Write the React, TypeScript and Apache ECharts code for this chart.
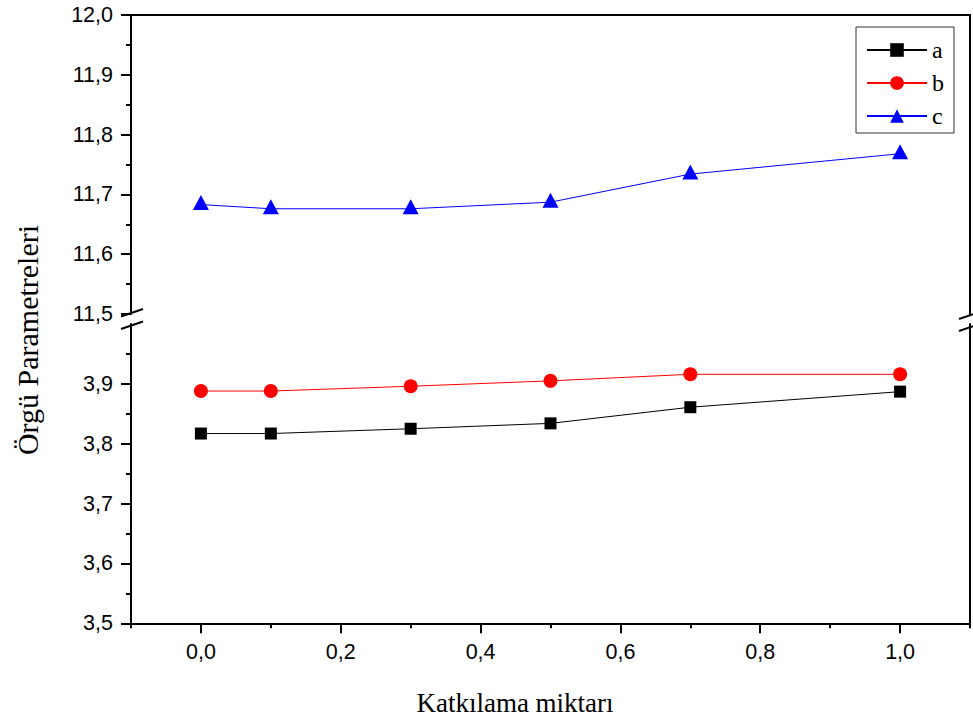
import React, { useEffect, useRef } from "react";
import * as echarts from "echarts";

const xValues = [0, 0.1, 0.3, 0.5, 0.7, 1.0];
const seriesA = [3.817, 3.817, 3.825, 3.834, 3.861, 3.887];
const seriesB = [3.888, 3.888, 3.896, 3.905, 3.916, 3.916];
const seriesC = [11.683, 11.676, 11.676, 11.687, 11.734, 11.768];
const seriesNames = ["a", "b", "c"];
const xMajorTicks = [0, 0.2, 0.4, 0.6, 0.8, 1.0];
const xMinorTicks = [-0.1, 0.1, 0.3, 0.5, 0.7, 0.9, 1.1];
const upperTicks = [11.5, 11.6, 11.7, 11.8, 11.9, 12.0];
const lowerTicks = [3.5, 3.6, 3.7, 3.8, 3.9];
const xTitle = "Katkılama miktarı";
const yTitle = "Örgü Parametreleri";

const SANS = '"Liberation Sans", Arial, sans-serif';
const SERIF = '"Liberation Serif", "Times New Roman", serif';

const fmt = (v: number) => v.toFixed(1).replace(".", ",");
const zip = (ys: number[]) => xValues.map((x, i) => [x, ys[i]]);

export default function App() {
  const ref = useRef<HTMLDivElement>(null);
  useEffect(() => {
    if (!ref.current) return;
    const chart = echarts.init(ref.current, undefined, { renderer: "svg" });
    const black = "#000";
    const axisLine = { show: true, onZero: false, lineStyle: { color: black, width: 2 } };
    const labelStyle = { color: black, fontSize: 21.5, fontFamily: SANS };
    const slash = (x1: number, y1: number, x2: number, y2: number) => ({
      type: "line",
      shape: { x1, y1, x2, y2 },
      style: { stroke: black, lineWidth: 2 },
      z: 100,
    });
    chart.setOption({
      animation: false,
      backgroundColor: "#fff",
      grid: [
        { left: 131, width: 839, top: 15, height: 299 },
        { left: 131, width: 839, top: 324, height: 299.3 },
      ],
      xAxis: [
        {
          gridIndex: 0, type: "value", position: "top", min: -0.1, max: 1.1,
          axisLine, axisTick: { show: false }, axisLabel: { show: false }, splitLine: { show: false },
        },
        {
          gridIndex: 1, type: "value", position: "bottom", min: -0.1, max: 1.1, interval: 0.1,
          axisLine,
          axisTick: { show: true, customValues: xMajorTicks, length: 10, lineStyle: { color: black, width: 2 } },
          axisLabel: { show: true, customValues: xMajorTicks, formatter: fmt, margin: 18, ...labelStyle },
          splitLine: { show: false },
        },
        {
          gridIndex: 1, type: "value", position: "bottom", min: -0.1, max: 1.1, interval: 0.1,
          axisLine: { show: false, onZero: false },
          axisTick: { show: true, customValues: xMinorTicks, length: 5, lineStyle: { color: black, width: 2 } },
          axisLabel: { show: false }, splitLine: { show: false },
        },
      ],
      yAxis: [
        {
          gridIndex: 0, type: "value", position: "left", min: 11.5, max: 12.0, interval: 0.1,
          axisLine,
          axisTick: { show: true, customValues: upperTicks, length: 10, lineStyle: { color: black, width: 2 } },
          minorTick: { show: true, splitNumber: 2, length: 5, lineStyle: { color: black, width: 2 } },
          axisLabel: { show: true, customValues: upperTicks, formatter: fmt, margin: 18, ...labelStyle },
          splitLine: { show: false },
        },
        {
          gridIndex: 0, type: "value", position: "right", min: 11.5, max: 12.0,
          axisLine, axisTick: { show: false }, axisLabel: { show: false }, splitLine: { show: false },
        },
        {
          gridIndex: 1, type: "value", position: "left", min: 3.5, max: 4.0, interval: 0.1,
          axisLine,
          axisTick: { show: true, customValues: lowerTicks, length: 10, lineStyle: { color: black, width: 2 } },
          minorTick: { show: true, splitNumber: 2, length: 5, lineStyle: { color: black, width: 2 } },
          axisLabel: { show: true, customValues: lowerTicks, formatter: fmt, margin: 18, ...labelStyle },
          splitLine: { show: false },
        },
        {
          gridIndex: 1, type: "value", position: "right", min: 3.5, max: 4.0,
          axisLine, axisTick: { show: false }, axisLabel: { show: false }, splitLine: { show: false },
        },
      ],
      legend: {
        data: seriesNames,
        orient: "vertical",
        left: 856,
        top: 27,
        padding: [11, 10, 5, 10],
        itemGap: 9,
        itemWidth: 60,
        itemHeight: 17,
        borderColor: "#333",
        borderWidth: 1,
        selectedMode: false,
        textStyle: { color: black, fontSize: 24, fontFamily: SERIF, lineHeight: 23 },
      },
      series: [
        {
          name: seriesNames[0], type: "line", xAxisIndex: 1, yAxisIndex: 2, data: zip(seriesA),
          symbol: "rect", symbolSize: 12, lineStyle: { color: black, width: 1 },
          itemStyle: { color: black }, z: 3,
        },
        {
          name: seriesNames[1], type: "line", xAxisIndex: 1, yAxisIndex: 2, data: zip(seriesB),
          symbol: "circle", symbolSize: 14, lineStyle: { color: "#ff0000", width: 1 },
          itemStyle: { color: "#ff0000" }, z: 3,
        },
        {
          name: seriesNames[2], type: "line", xAxisIndex: 0, yAxisIndex: 0, data: zip(seriesC),
          symbol: "triangle", symbolSize: [16, 15], symbolOffset: [0, -2],
          lineStyle: { color: "#0000ff", width: 1 }, itemStyle: { color: "#0000ff" }, z: 3,
        },
      ],
      graphic: [
        {
          type: "text", x: 515, y: 703,
          style: { text: xTitle, fill: black, font: `27px ${SERIF}`, align: "center", verticalAlign: "middle" },
        },
        {
          type: "text", x: 27, y: 340, rotation: Math.PI / 2,
          style: { text: yTitle, fill: black, font: `30px ${SERIF}`, align: "center", verticalAlign: "middle" },
        },
        slash(121, 316.5, 143, 309),
        slash(121, 329, 143, 321.5),
        slash(959, 319, 981, 311.5),
        slash(959, 331, 981, 323.5),
      ],
    });
    return () => chart.dispose();
  }, []);
  return (
    <div
      ref={ref}
      style={{ position: "fixed", left: 0, top: 0, width: 973, height: 722, background: "#fff" }}
    />
  );
}
